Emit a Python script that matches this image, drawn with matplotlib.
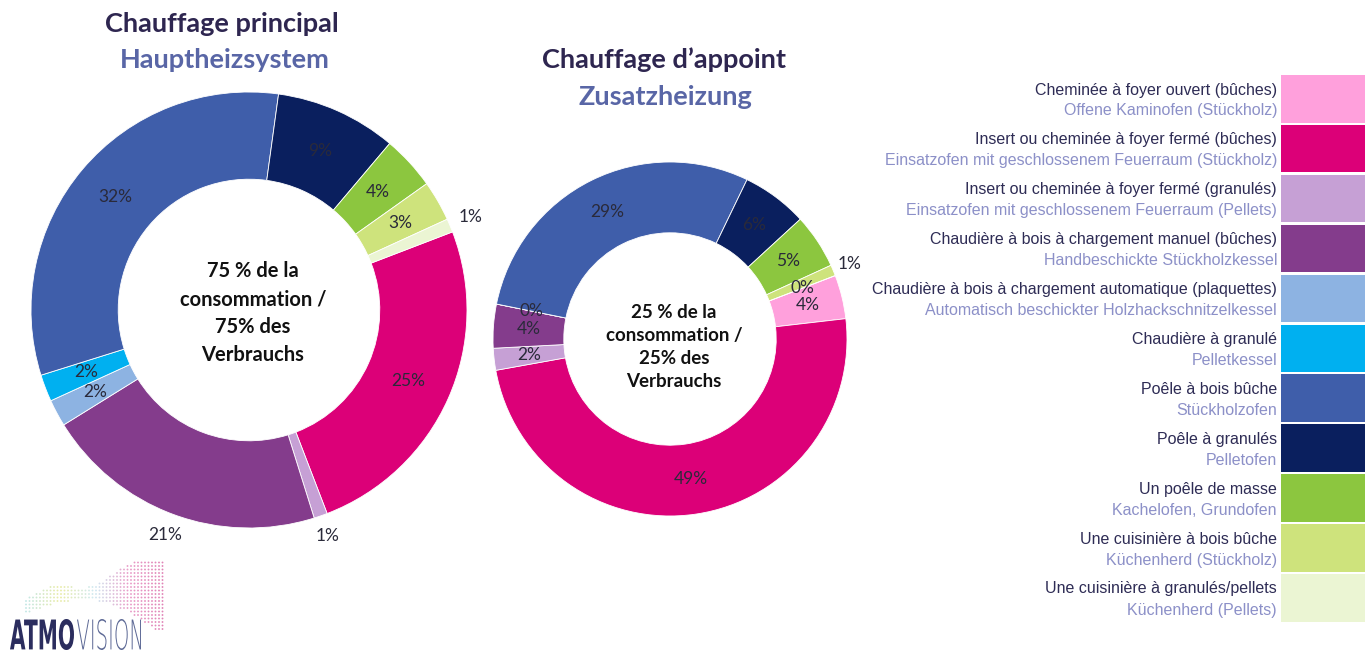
import matplotlib
matplotlib.use('Agg')
import matplotlib.pyplot as plt
from matplotlib.patches import Rectangle, PathPatch
from matplotlib.textpath import TextPath
from matplotlib.font_manager import FontProperties
from matplotlib.transforms import Affine2D
from matplotlib.colors import LinearSegmentedColormap
import numpy as np

W, H = 1365, 659

# categories (FR / DE) in legend order, which is also the clockwise order of the rings
cat_fr = ['Cheminée à foyer ouvert (bûches)',
          'Insert ou cheminée à foyer fermé (bûches)',
          'Insert ou cheminée à foyer fermé (granulés)',
          'Chaudière à bois à chargement manuel (bûches)',
          'Chaudière à bois à chargement automatique (plaquettes)',
          'Chaudière à granulé',
          'Poêle à bois bûche',
          'Poêle à granulés',
          'Un poêle de masse',
          'Une cuisinière à bois bûche',
          'Une cuisinière à granulés/pellets']
cat_de = ['Offene Kaminofen (Stückholz)',
          'Einsatzofen mit geschlossenem Feuerraum (Stückholz)',
          'Einsatzofen mit geschlossenem Feuerraum (Pellets)',
          'Handbeschickte Stückholzkessel',
          'Automatisch beschickter Holzhackschnitzelkessel',
          'Pelletkessel',
          'Stückholzofen',
          'Pelletofen',
          'Kachelofen, Grundofen',
          'Küchenherd (Stückholz)',
          'Küchenherd (Pellets)']
colors = ['#FFA0DC', '#DC0078', '#C6A0D5', '#843C8C', '#8DB3E2', '#00B0F0',
          '#3F5EAA', '#0A1F5E', '#8CC63F', '#CEE37C', '#EBF5D3']

# shares in %, None = no value shown
main_share = [None, 25, 1, 21, 2, 2, 32, 9, 4, 3, 1]
extra_share = [4, 49, 2, 4, 0, None, 29, 6, 5, 1, 0]

main_title = ['Chauffage principal', 'Hauptheizsystem']
extra_title = ['Chauffage d\u2019appoint', 'Zusatzheizung']
main_centre = '75 % de la\nconsommation /\n75% des\nVerbrauchs'
extra_centre = '25 % de la\nconsommation /\n25% des\nVerbrauchs'

title_dark = '#2E2650'
title_light = '#5966A6'
lbl_col = '#2A2A3A'

fig = plt.figure(figsize=(W / 100, H / 100), dpi=100)
ax = fig.add_axes([0, 0, 1, 1])


def Y(y):
    return H - y


def donut(shares, cx, cy, r, outside, centre, csize, cspace, cdy):
    vals = [0 if v is None else v for v in shares]
    wedges, _ = ax.pie(vals, colors=colors, startangle=21, counterclock=False,
                       center=(cx, Y(cy)), radius=r,
                       wedgeprops=dict(width=0.4 * r, edgecolor='white', linewidth=0.6))
    for i, (w, v) in enumerate(zip(wedges, shares)):
        if v is None:
            continue
        a = np.deg2rad((w.theta1 + w.theta2) / 2)
        rr = r * 1.1 if i in outside else r * 0.8
        ax.text(cx + rr * np.cos(a), Y(cy) + rr * np.sin(a), f'{v}%',
                ha='center', va='center', fontsize=12.5, family='Lato', color=lbl_col)
    ax.text(cx + 4, Y(cy + cdy), centre, ha='center', va='center', fontsize=csize,
            family='Lato', weight='bold', color='#111111', linespacing=cspace)


donut(main_share, 249, 310, 218, {2, 3, 10}, main_centre, 14.5, 1.5, 3)
donut(extra_share, 670, 339, 177, {9}, extra_centre, 13.5, 1.45, 8)

ax.text(222, Y(24), main_title[0], ha='center', va='center', fontsize=19.5,
        family='Lato', weight='bold', color=title_dark)
ax.text(225, Y(60), main_title[1], ha='center', va='center', fontsize=19.5,
        family='Lato', weight='bold', color=title_light)
ax.text(664, Y(60), extra_title[0], ha='center', va='center', fontsize=19.5,
        family='Lato', weight='bold', color=title_dark)
ax.text(665, Y(97), extra_title[1], ha='center', va='center', fontsize=19.5,
        family='Lato', weight='bold', color=title_light)

# legend
for i in range(len(cat_fr)):
    top = 75 + i * 49.9
    ax.add_patch(Rectangle((1281, Y(top + 47.5)), 90, 47.5, color=colors[i], lw=0))
    ax.text(1277, Y(top + 15), cat_fr[i], ha='right', va='center', fontsize=11.5,
            family='Liberation Sans', color='#2E2C55')
    ax.text(1277, Y(top + 36), cat_de[i], ha='right', va='center', fontsize=11.5,
            family='Liberation Sans', color='#8C90C8')


# logo
def logo_word(s, x0, x1, y_top, y_bot, weight, col):
    tp = TextPath((0, 0), s, size=40, prop=FontProperties(family='DejaVu Sans', weight=weight))
    ext = tp.get_extents()
    sx = (x1 - x0) / ext.width
    sy = (y_bot - y_top) / ext.height
    tr = Affine2D().translate(-ext.x0, -ext.y0).scale(sx, sy).translate(x0, Y(y_bot))
    ax.add_patch(PathPatch(tr.transform_path(tp), color=col, lw=0))


# dotted swoosh above the logo text
gx, gy = np.meshgrid(np.arange(26, 166, 3.5), np.arange(552, 630, 3.5))
t = (gx - 26) / 140
upper = 600 - 42 * t - 6 * np.sin(t * 10)
lower = 614 - 16 * np.sin(t * 3.3) + 22 * t ** 3
band = (gy > upper) & (gy < lower)
swoosh = LinearSegmentedColormap.from_list('sw', ['#8FD3D0', '#D8DC5A', '#A8D8E8', '#D84C9C', '#C8207C'])
ax.scatter(gx[band], Y(gy[band]), s=1.8, c=t[band], cmap=swoosh, alpha=0.55, lw=0)

logo_word('ATMO', 10, 74, 619, 650, 'bold', '#2B2D5E')
logo_word('VISION', 77, 141, 619, 650, 'light', '#5E6A96')

ax.set_xlim(0, W)
ax.set_ylim(0, H)
ax.set_aspect('equal')
ax.axis('off')

fig.savefig('out.png', dpi=100)
